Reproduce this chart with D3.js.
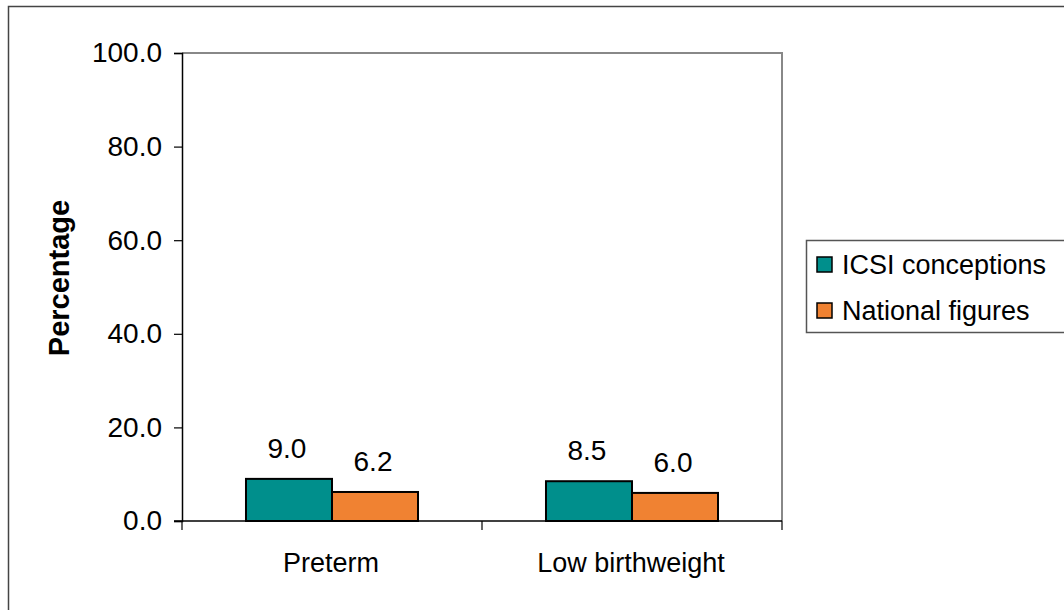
<!DOCTYPE html>
<html>
<head>
<meta charset="utf-8">
<script src="https://cdn.jsdelivr.net/npm/d3@7"></script>
<style>
  body { margin: 0; background: #fff; }
  svg { display: block; font-family: "Liberation Sans", Arial, sans-serif; }
</style>
</head>
<body>
<div id="chart"></div>
<script>
// chart values
const categories = ['Preterm', 'Low birthweight'];
const seriesNames = ['ICSI conceptions', 'National figures'];
const icsiValues = [9.0, 8.5];
const nationalValues = [6.2, 6.0];
const yTicks = [0, 20, 40, 60, 80, 100];
const colors = ['#008f8c', '#f08232'];

const width = 1064, height = 610;
const margin = {top: 53, right: 282, bottom: 89, left: 182};
const fontSize = 27;

const svg = d3.select('#chart').append('svg')
  .attr('width', width)
  .attr('height', height);

// outer frame (only top/left visible in the window)
svg.append('rect')
  .attr('x', 8.5).attr('y', 6.5)
  .attr('width', width + 20).attr('height', height + 20)
  .attr('fill', 'none')
  .attr('stroke', '#444')
  .attr('stroke-width', 1.5);

const x0 = d3.scaleBand()
  .domain(categories)
  .range([margin.left, width - margin.right]);

const x1 = d3.scaleBand()
  .domain(seriesNames)
  .range([0, x0.bandwidth()])
  .paddingOuter(0.744);

const y = d3.scaleLinear()
  .domain([0, 100])
  .range([height - margin.bottom, margin.top]);

const rows = categories.map((c, i) => ({
  category: c,
  values: [icsiValues[i], nationalValues[i]]
}));

// plot frame, top and right in grey
svg.append('path')
  .attr('d', `M${x0.range()[0]},${y(100)}H${x0.range()[1]}V${y(0)}`)
  .attr('fill', 'none')
  .attr('stroke', '#888')
  .attr('stroke-width', 2);

// y axis
const yAxis = svg.append('g')
  .attr('transform', `translate(${margin.left},0)`)
  .call(d3.axisLeft(y).tickValues(yTicks).tickFormat(d3.format('.1f')).tickSize(8).tickPadding(12));
yAxis.select('.domain').attr('stroke', '#000').attr('stroke-width', 1.5);
yAxis.selectAll('.tick line').attr('stroke', '#000').attr('stroke-width', 1.2);
yAxis.selectAll('text')
  .attr('font-size', 28)
  .attr('font-family', '"Liberation Sans", Arial, sans-serif')
  .attr('fill', '#000');

// x axis with ticks on band edges
const edges = categories.map(c => x0(c)).concat([x0.range()[1]]);
const xAxis = svg.append('g')
  .attr('transform', `translate(0,${y(0)})`);
xAxis.append('line')
  .attr('x1', x0.range()[0] - 8).attr('x2', x0.range()[1])
  .attr('stroke', '#000').attr('stroke-width', 1.5);
xAxis.selectAll('.edge')
  .data(edges)
  .enter().append('line')
  .attr('x1', d => d).attr('x2', d => d)
  .attr('y1', 0).attr('y2', 9)
  .attr('stroke', '#000').attr('stroke-width', 1.2);
xAxis.selectAll('.cat')
  .data(categories)
  .enter().append('text')
  .attr('x', d => x0(d) + x0.bandwidth() / 2 - 1)
  .attr('y', 51)
  .attr('text-anchor', 'middle')
  .attr('font-size', fontSize)
  .text(d => d);

// y title
svg.append('text')
  .attr('transform', `translate(69,${278}) rotate(-90)`)
  .attr('text-anchor', 'middle')
  .attr('font-size', 29)
  .attr('font-weight', 'bold')
  .text('Percentage');

// bars
const groups = svg.append('g').selectAll('g')
  .data(rows)
  .enter().append('g')
  .attr('transform', d => `translate(${x0(d.category)},0)`);

groups.selectAll('rect')
  .data(d => d.values.map((v, i) => ({name: seriesNames[i], value: v, i})))
  .enter().append('rect')
  .attr('x', d => x1(d.name))
  .attr('y', d => y(d.value))
  .attr('width', x1.bandwidth())
  .attr('height', d => y(0) - y(d.value))
  .attr('fill', d => colors[d.i])
  .attr('stroke', '#000')
  .attr('stroke-width', 2);

groups.selectAll('.val')
  .data(d => d.values.map((v, i) => ({name: seriesNames[i], value: v})))
  .enter().append('text')
  .attr('x', d => x1(d.name) + x1.bandwidth() / 2 - 2)
  .attr('y', d => y(d.value) - 21)
  .attr('text-anchor', 'middle')
  .attr('font-size', 28)
  .text(d => d3.format('.1f')(d.value));

// legend
const legend = svg.append('g').attr('transform', 'translate(806,240)');
legend.append('rect')
  .attr('x', 0.5).attr('y', 0.5)
  .attr('width', 300).attr('height', 92)
  .attr('fill', '#fff')
  .attr('stroke', '#555')
  .attr('stroke-width', 1.5);
const items = legend.selectAll('.item')
  .data(seriesNames)
  .enter().append('g')
  .attr('transform', (d, i) => `translate(11,${25 + i * 46})`);
items.append('rect')
  .attr('x', 0).attr('y', -8)
  .attr('width', 15).attr('height', 15)
  .attr('fill', (d, i) => colors[i])
  .attr('stroke', '#000')
  .attr('stroke-width', 1.5);
items.append('text')
  .attr('x', 25)
  .attr('y', 0)
  .attr('dy', '0.35em')
  .attr('font-size', fontSize)
  .text(d => d);
</script>
</body>
</html>
